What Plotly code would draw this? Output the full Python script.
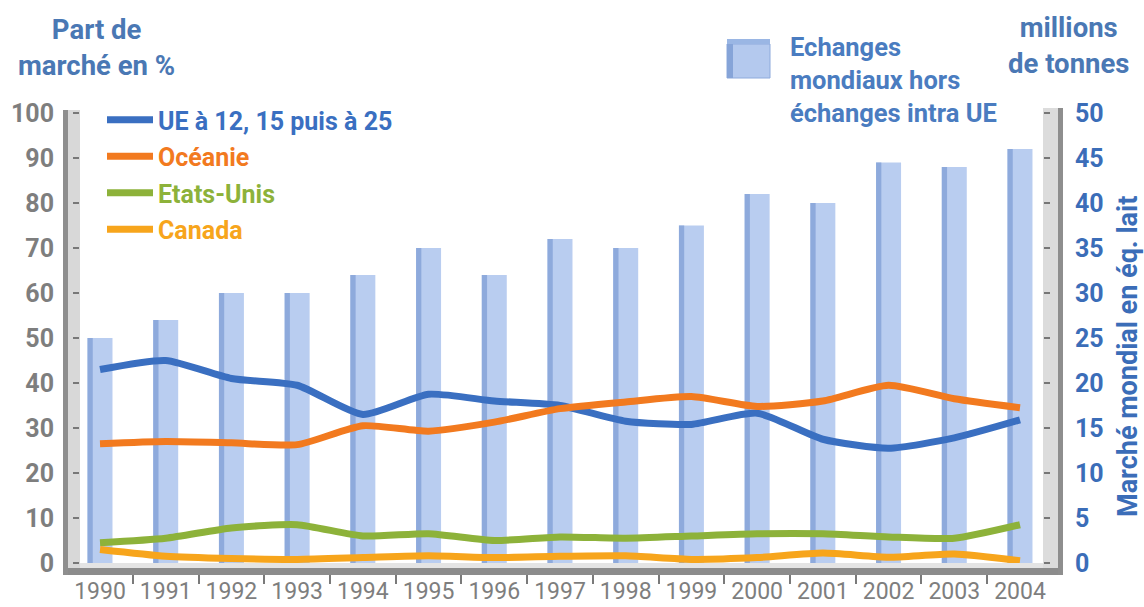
import plotly.graph_objects as go

years = list(range(1990, 2005))
year_labels = [str(y) for y in years]
echanges = [25, 27, 30, 30, 32, 35, 32, 36, 35, 37.5, 41, 40, 44.5, 44, 46]
ue = [43, 45, 41, 39.5, 33, 37.5, 36, 35, 31.5, 30.8, 33.3, 27.5, 25.5, 27.8, 31.8]
oceanie = [26.5, 27, 26.7, 26.3, 30.5, 29.3, 31.3, 34.3, 35.8, 37, 34.8, 36, 39.5, 36.5, 34.5]
etats_unis = [4.5, 5.5, 7.8, 8.5, 6, 6.5, 5, 5.8, 5.5, 6, 6.5, 6.5, 5.8, 5.5, 8.5]
canada = [3, 1.5, 1, 0.8, 1.2, 1.6, 1.2, 1.5, 1.6, 0.8, 1.2, 2.2, 1.3, 2, 0.5]
left_ticks = list(range(0, 101, 10))
right_ticks = list(range(0, 51, 5))

series = [
    ("UE à 12, 15 puis à 25", ue, "#3a6fc1"),
    ("Océanie", oceanie, "#f27a1f"),
    ("Etats-Unis", etats_unis, "#8db23a"),
    ("Canada", canada, "#f7a51c"),
]

FONT = "Roboto, Liberation Sans, sans-serif"
BLUE_T = "#4a78b4"
BLUE_R = "#3b6db8"
GRAY = "#7e7e7e"

W, H = 1144, 607
L, R, T, B = 80, 1043, 113, 572
PW, PH = R - L, B - T


def px(x):
    return (x - L) / PW


def py(y):
    return (B - y) / PH


fig = go.Figure()

# bars (primary y axis, right side, millions de tonnes)
fig.add_trace(go.Bar(x=years, y=echanges, yaxis="y", width=0.38,
                     marker=dict(color="#b9cdf0", line=dict(width=0)),
                     showlegend=False, hoverinfo="skip"))
fig.add_trace(go.Bar(x=years, y=echanges, yaxis="y", width=0.08, offset=-0.19,
                     marker=dict(color="#8eaadc", line=dict(width=0)),
                     showlegend=False, hoverinfo="skip"))

for i, (name, vals, col) in enumerate(series):
    fig.add_trace(go.Scatter(
        x=years, y=vals, yaxis="y2", mode="lines",
        line=dict(color=col, width=7, shape="spline", smoothing=0.6),
        name=f'<span style="color:{col}">{name}</span>',
        legendgroup=f"g{i}", hoverinfo="skip"))

shapes = [
    # floor
    dict(type="rect", xref="paper", yref="paper", x0=px(63), x1=px(1063), y0=py(569), y1=py(563),
         fillcolor="#e4e4e4", line_width=0, layer="below"),
    # bottom line
    dict(type="rect", xref="paper", yref="paper", x0=px(63), x1=px(1063), y0=py(575), y1=py(568),
         fillcolor="#8c8c8c", line_width=0, layer="above"),
    # left wall
    dict(type="rect", xref="paper", yref="paper", x0=px(63), x1=px(80), y0=py(575), y1=py(110),
         fillcolor="#d8d8d8", line_width=0, layer="below"),
    dict(type="rect", xref="paper", yref="paper", x0=px(63), x1=px(68), y0=py(575), y1=py(110),
         fillcolor="#8e8e8e", line_width=0, layer="above"),
    # right wall
    dict(type="rect", xref="paper", yref="paper", x0=px(1043), x1=px(1063), y0=py(575), y1=py(108),
         fillcolor="#dcdcdc", line_width=0, layer="below"),
    dict(type="rect", xref="paper", yref="paper", x0=px(1058), x1=px(1063), y0=py(575), y1=py(108),
         fillcolor="#8e8e8e", line_width=0, layer="above"),
    # legend box icon
    dict(type="rect", xref="paper", yref="paper", x0=px(727), x1=px(770), y0=py(78), y1=py(44),
         fillcolor="#b4c9ee", line=dict(color="#8eaadc", width=1), layer="above"),
    dict(type="rect", xref="paper", yref="paper", x0=px(727), x1=px(733), y0=py(78), y1=py(44),
         fillcolor="#86a4d8", line_width=0, layer="above"),
    dict(type="rect", xref="paper", yref="paper", x0=px(727), x1=px(770), y0=py(44), y1=py(39),
         fillcolor="#9ab6e4", line_width=0, layer="above"),
]

annotations = [
    dict(text="Part de<br>marché en %", x=px(96), y=py(47), xref="paper", yref="paper",
         xanchor="center", yanchor="middle", showarrow=False, align="center",
         font=dict(family=FONT, size=27.5, color=BLUE_T, weight="bold")),
    dict(text="millions<br>de tonnes", x=px(1068), y=py(46), xref="paper", yref="paper",
         xanchor="center", yanchor="middle", showarrow=False, align="center",
         font=dict(family=FONT, size=27.5, color=BLUE_T, weight="bold")),
    dict(text="Echanges<br>mondiaux hors<br>échanges intra UE", x=px(788), y=py(80), xref="paper",
         yref="paper", xanchor="left", yanchor="middle", showarrow=False, align="left",
         font=dict(family=FONT, size=25.5, color="#4a7cc0", weight="bold")),
    dict(text="Marché mondial en éq. lait", x=px(1128), y=py(357), xref="paper", yref="paper",
         xanchor="center", yanchor="middle", showarrow=False, textangle=-90,
         font=dict(family=FONT, size=27, color=BLUE_R, weight="bold")),
]

fig.update_layout(
    width=W, height=H,
    margin=dict(l=L, r=W - R, t=T, b=H - B, pad=0, autoexpand=False),
    plot_bgcolor="white", paper_bgcolor="white",
    barmode="overlay",
    shapes=shapes, annotations=annotations,
    xaxis=dict(range=[1990 - 20 / 65.71, 2004 + 23 / 65.71], tickvals=years, ticktext=year_labels,
               showgrid=False, zeroline=False, showline=False, ticks="", automargin=False,
               anchor="free", position=0, ticklabelstandoff=3,
               tickfont=dict(family=FONT, size=23, color=GRAY),
               minor=dict(tickvals=[y + 0.5 for y in years[:-1]], ticks="outside", ticklen=11,
                          tickwidth=2, tickcolor="#7a7a7a", showgrid=False)),
    yaxis=dict(range=[0, 50], domain=[9 / PH, 1], side="right", tickvals=right_ticks,
               showgrid=False, zeroline=False, showline=False, ticks="outside", ticklen=6,
               tickwidth=2, tickcolor="#777777", ticklabelstandoff=20, automargin=False,
               tickfont=dict(family=FONT, size=25, color=BLUE_R, weight="bold")),
    yaxis2=dict(range=[0, 100], overlaying="y", side="left", tickvals=left_ticks,
                showgrid=False, zeroline=False, showline=False, ticks="outside", ticklen=6,
                tickwidth=2, tickcolor="#777777", ticklabelstandoff=14, automargin=False,
                tickfont=dict(family=FONT, size=25, color=GRAY, weight="bold")),
    legend=dict(x=px(102), y=py(97), xanchor="left", yanchor="top", bgcolor="rgba(0,0,0,0)",
                traceorder="grouped", tracegroupgap=1,
                font=dict(family=FONT, size=25, weight="bold"), itemwidth=46),
)

fig.write_html("out.html")
